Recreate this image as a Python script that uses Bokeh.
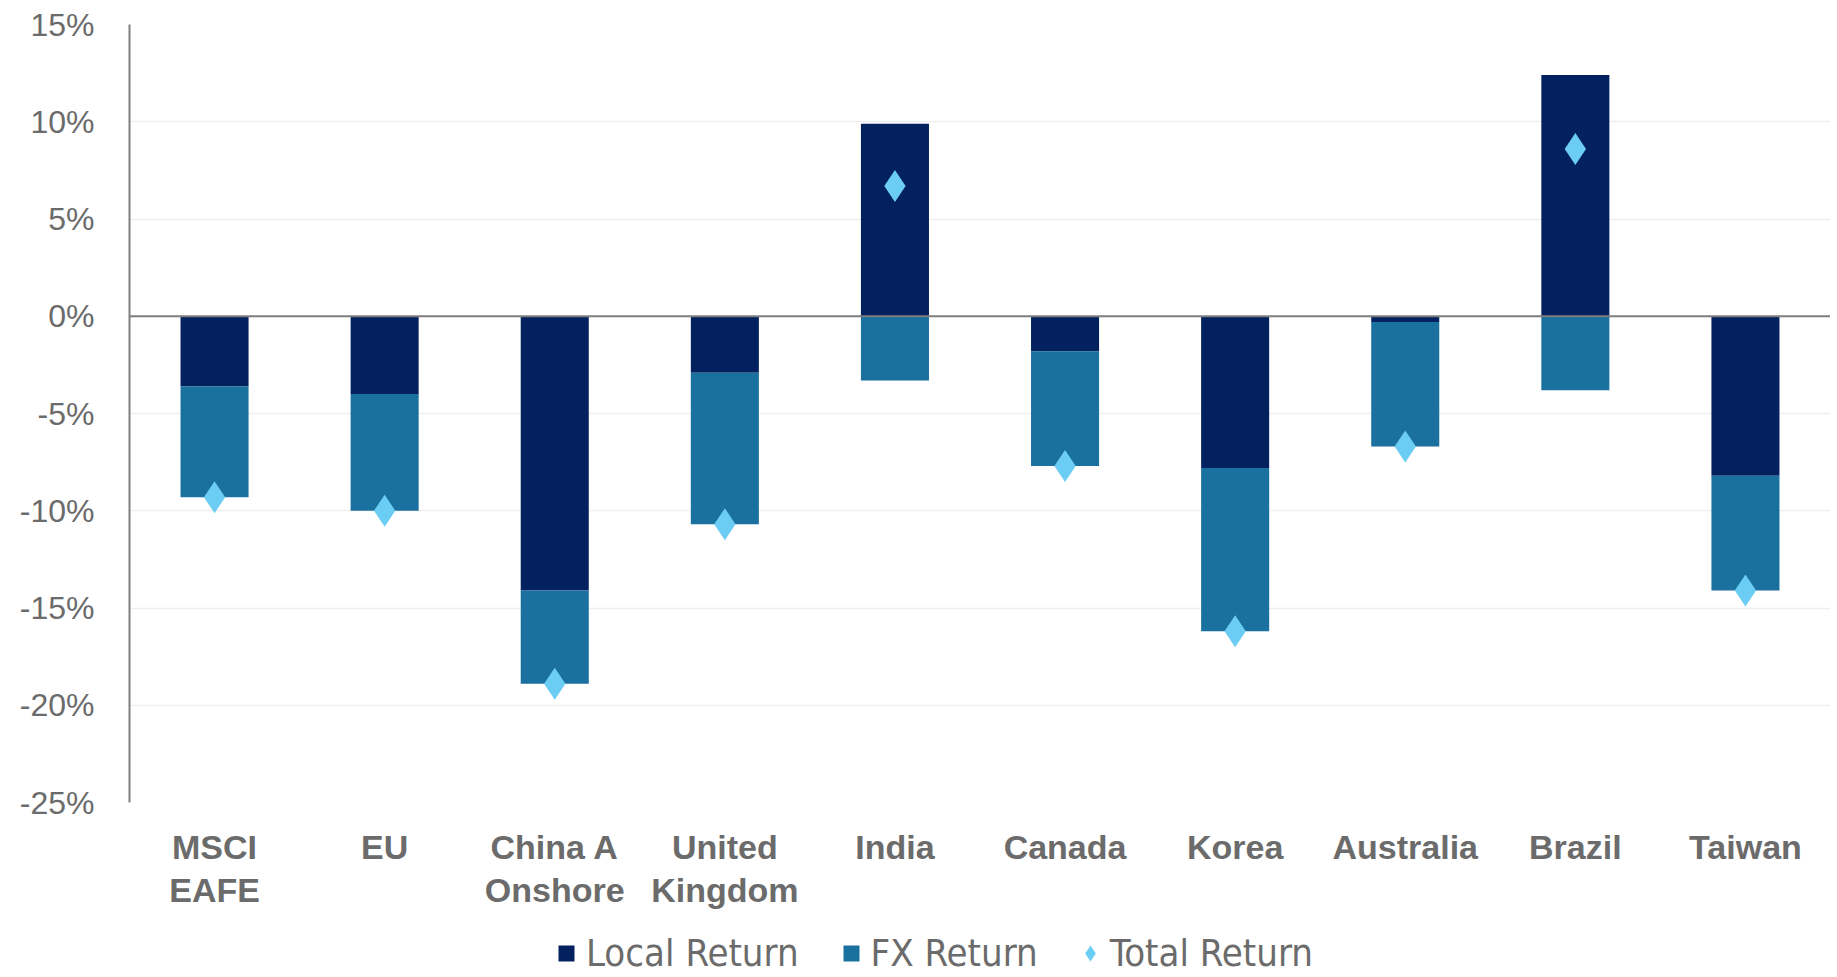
from bokeh.plotting import figure
from bokeh.layouts import column
from bokeh.models import (FactorRange, Range1d, FixedTicker, Span, Legend,
                          LegendItem, ColumnDataSource)
from bokeh.embed import file_html
from bokeh.resources import INLINE

# ---------------- data ----------------
categories = ["MSCI\nEAFE", "EU", "China A\nOnshore", "United\nKingdom", "India",
              "Canada", "Korea", "Australia", "Brazil", "Taiwan"]
local_return = [-3.6, -4.0, -14.1, -2.9, 9.9, -1.8, -7.8, -0.3, 12.4, -8.2]
fx_return = [-5.7, -6.0, -4.8, -7.8, -3.3, -5.9, -8.4, -6.4, -3.8, -5.9]
total_return = [-9.3, -10.0, -18.9, -10.7, 6.7, -7.7, -16.2, -6.7, 8.6, -14.1]
y_ticks = [-25, -20, -15, -10, -5, 0, 5, 10, 15]
y_tick_labels = ["-25%", "-20%", "-15%", "-10%", "-5%", "0%", "5%", "10%", "15%"]
series_names = ["Local Return", "FX Return", "Total Return"]

# ---------------- styles ----------------
C_LOCAL = "#03215E"
C_FX = "#1A709E"
C_TOTAL = "#6CCDF4"
TXT = "#6B6B6B"
NARROW = "'Liberation Sans Narrow', 'DejaVu Sans Condensed', 'Roboto', sans-serif"

# stacked segments (FX starts where local ends if same sign, else at zero)
fx_bottom = [l if (l < 0) == (f < 0) else 0 for l, f in zip(local_return, fx_return)]
fx_top = [b + f for b, f in zip(fx_bottom, fx_return)]

src = ColumnDataSource(dict(cat=categories, local=local_return,
                            fxb=fx_bottom, fxt=fx_top, total=total_return))

p = figure(width=1830, height=912, x_range=FactorRange(*categories, range_padding=0),
           y_range=Range1d(-25, 15), output_backend="svg", toolbar_location=None,
           min_border_left=129, min_border_right=0, min_border_top=24,
           min_border_bottom=110)
p.outline_line_color = None
p.background_fill_color = "white"
p.border_fill_color = "white"

p.xgrid.grid_line_color = None
p.ygrid.ticker = FixedTicker(ticks=y_ticks)
p.ygrid.grid_line_color = "#EFEFEF"
p.ygrid.grid_line_width = 1.5

r_local = p.vbar(x="cat", top="local", bottom=0, width=0.4, source=src,
                 fill_color=C_LOCAL, line_color=None)
r_fx = p.vbar(x="cat", top="fxt", bottom="fxb", width=0.4, source=src,
              fill_color=C_FX, line_color=None)

p.add_layout(Span(location=0, dimension="width", line_color="#7F7F7F", line_width=2))

r_total = p.scatter(x="cat", y="total", source=src, marker="diamond", size=32,
                    fill_color=C_TOTAL, line_color=None)

# y axis
yax = p.yaxis[0]
yax.ticker = FixedTicker(ticks=y_ticks)
yax.major_label_overrides = {t: lab for t, lab in zip(y_ticks, y_tick_labels)}
yax.axis_line_color = "#808080"
yax.axis_line_width = 2
yax.major_tick_line_color = None
yax.minor_tick_line_color = None
yax.major_tick_out = 0
yax.major_label_standoff = 35
yax.major_label_text_font = "Liberation Sans"
yax.major_label_text_font_size = "32px"
yax.major_label_text_color = TXT

# x axis
xax = p.xaxis[0]
xax.axis_line_color = None
xax.major_tick_line_color = None
xax.minor_tick_line_color = None
xax.major_tick_out = 0
xax.major_label_standoff = 25
xax.major_label_text_font = "Liberation Sans"
xax.major_label_text_font_style = "bold"
xax.major_label_text_font_size = "34px"
xax.major_label_text_line_height = 1.15
xax.major_label_text_color = TXT

# ---------------- legend strip ----------------
lg = figure(width=1830, height=63, x_range=Range1d(0, 1), y_range=Range1d(0, 1),
            output_backend="svg", toolbar_location=None,
            min_border_left=0, min_border_right=0, min_border_top=0, min_border_bottom=0)
lg.axis.visible = False
lg.grid.grid_line_color = None
lg.outline_line_color = None
lg.background_fill_color = "white"
lg.border_fill_color = "white"

# swatch renderers placed outside the visible range (only their legend glyphs show)
px_local = lg.scatter([-5], [-5], marker="square", fill_color=C_LOCAL, line_color=None)
px_fx = lg.scatter([-5], [-5], marker="square", fill_color=C_FX, line_color=None)
px_total = lg.scatter([-5], [-5], marker="diamond", fill_color=C_TOTAL, line_color=None)

legend = Legend(items=[LegendItem(label=series_names[0], renderers=[px_local]),
                       LegendItem(label=series_names[1], renderers=[px_fx]),
                       LegendItem(label=series_names[2], renderers=[px_total])],
                orientation="horizontal", location=(417, 0),
                glyph_width=40, glyph_height=40, label_standoff=0, spacing=32,
                padding=0, margin=0, border_line_color=None,
                background_fill_alpha=0,
                label_text_font=NARROW,
                label_text_font_size="38px", label_text_color=TXT)
lg.add_layout(legend, "center")

layout = column(p, lg, spacing=0)
open("out.html", "w").write(file_html(layout, INLINE))
